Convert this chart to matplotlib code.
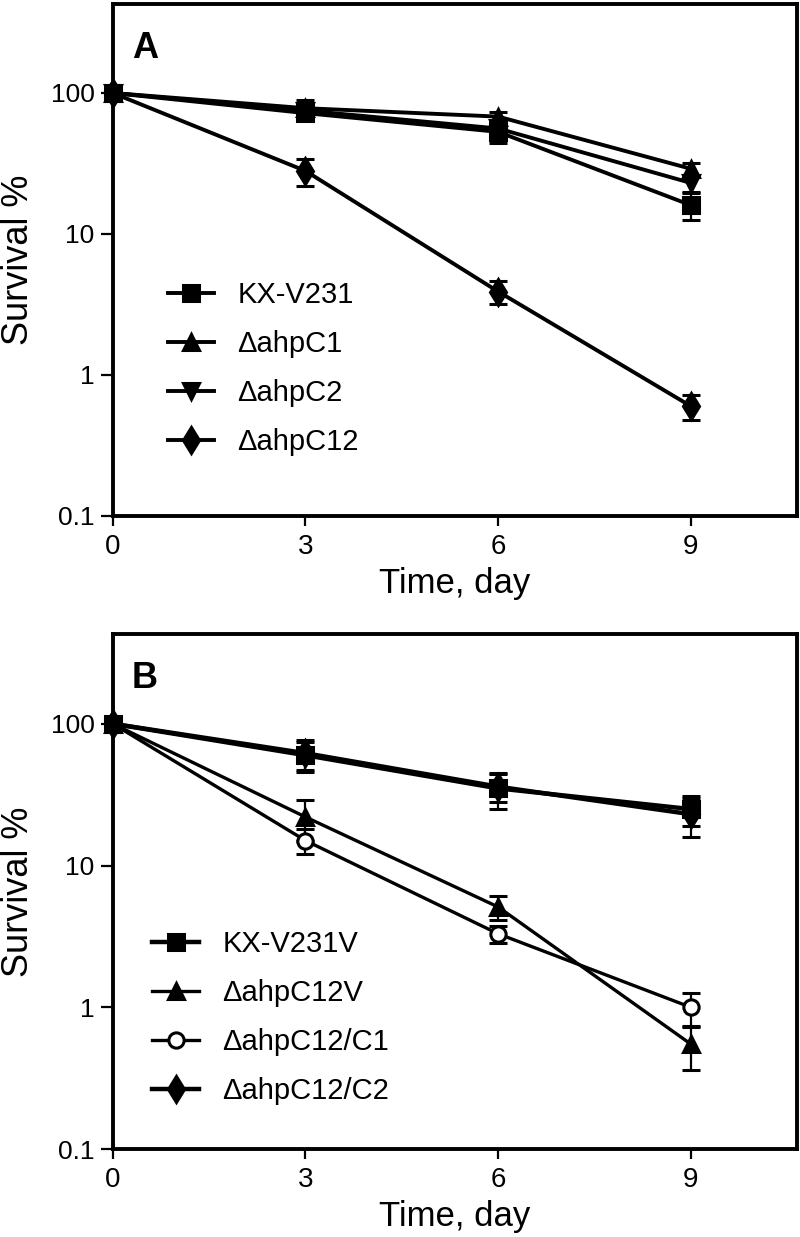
import matplotlib
matplotlib.use('Agg')
import matplotlib.pyplot as plt

plt.rcParams['font.family'] = ['Liberation Sans', 'DejaVu Sans']

# days of sampling
days = [0, 3, 6, 9]

# panel A: survival % (mean) and error
a_labels = ['KX-V231', '\u0394ahpC1', '\u0394ahpC2', '\u0394ahpC12']
a_kx = [100, 72, 53, 16]
a_kx_err = [0, 8, 9, 3.5]
a_c1 = [100, 78, 68, 29]
a_c1_err = [0, 11, 5, 3]
a_c2 = [100, 75, 56, 23]
a_c2_err = [0, 7, 6, 3]
a_c12 = [100, 28, 3.9, 0.6]
a_c12_err = [0, 6, 0.7, 0.12]

# panel B
b_labels = ['KX-V231V', '\u0394ahpC12V', '\u0394ahpC12/C1', '\u0394ahpC12/C2']
b_kxv = [100, 60, 35, 25]
b_kxv_err = [0, 14, 10, 6]
b_c12v = [100, 22, 5.1, 0.55]
b_c12v_err = [0, 7, 1.0, 0.19]
b_c1 = [100, 15, 3.3, 1.0]
b_c1_err = [0, 3, 0.45, 0.27]
b_c2 = [100, 62, 36, 23]
b_c2_err = [0, 15, 8, 7]

fig = plt.figure(figsize=(8, 12.37), dpi=100)
axA = fig.add_axes([0.141, 0.583, 0.855, 0.414])
axB = fig.add_axes([0.141, 0.0711, 0.855, 0.4164])


def draw(ax, series, labels, letter, leg_x, leg_y):
    n = len(series)
    for i, ((y, err, marker, ms, face, lw), lab) in enumerate(zip(series, labels)):
        z = 3 + (n - i)
        ax.errorbar(days[1:], y[1:], yerr=err[1:], fmt='none', ecolor='black',
                    elinewidth=1.6, capsize=6.5, capthick=2.2, clip_on=False, zorder=2)
        ax.plot(days, y, color='black', lw=lw, marker=marker, ms=ms,
                mfc=face, mec='black', mew=2.2, label=lab, clip_on=False, zorder=z)
    ax.set_yscale('log')
    ax.set_ylim(0.1, 430)
    ax.set_xlim(0, 10.65)
    ax.set_yticks([0.1, 1, 10, 100])
    ax.set_yticklabels(['0.1', '1', '10', '100'])
    ax.minorticks_off()
    ax.set_xticks([0, 3, 6, 9])
    ax.tick_params(axis='y', length=9, width=1.6, labelsize=19, pad=4)
    ax.tick_params(axis='x', length=7, width=1.6, labelsize=20, pad=6)
    for s in ax.spines.values():
        s.set_linewidth(2.8)
    ax.set_xlabel('Time, day', fontsize=25, labelpad=5)
    ax.set_ylabel('Survival %', fontsize=26, labelpad=11)
    ax.text(0.028, 0.947, letter, transform=ax.transAxes, fontsize=26,
            fontweight='bold', va='top', ha='left')
    ax.legend(loc='upper left', bbox_to_anchor=(leg_x, leg_y), frameon=False,
              fontsize=21, numpoints=1, handlelength=1.6, handletextpad=0.8,
              labelspacing=0.72, borderpad=0, borderaxespad=0)


draw(axA, [
    (a_kx, a_kx_err, 's', 12, 'black', 2.8),
    (a_c1, a_c1_err, '^', 12, 'black', 2.8),
    (a_c2, a_c2_err, 'v', 12, 'black', 2.8),
    (a_c12, a_c12_err, 'd', 13, 'black', 2.8),
], a_labels, 'A', 0.08, 0.458)

draw(axB, [
    (b_kxv, b_kxv_err, 's', 12, 'black', 3.2),
    (b_c12v, b_c12v_err, '^', 12, 'black', 2.4),
    (b_c1, b_c1_err, 'o', 11, 'white', 2.4),
    (b_c2, b_c2_err, 'd', 13, 'black', 3.2),
], b_labels, 'B', 0.058, 0.425)

fig.savefig('out.png', dpi=100)
